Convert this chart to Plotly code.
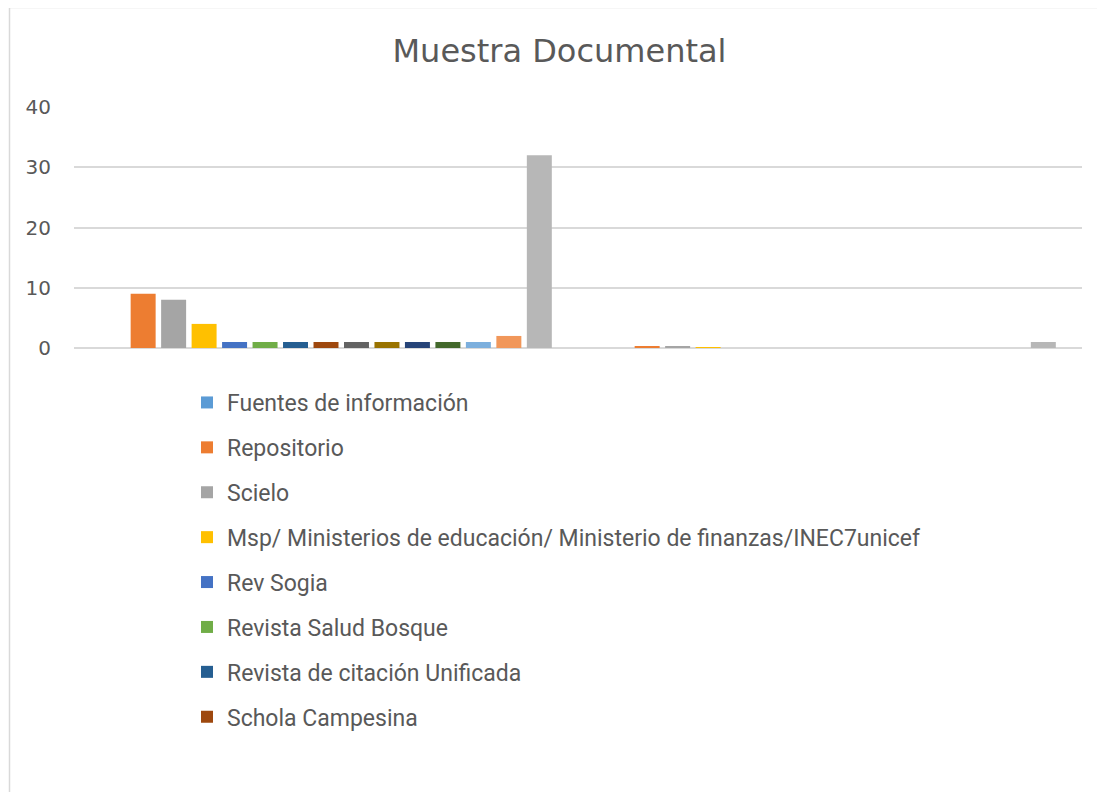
import plotly.graph_objects as go

categories = ["1", "2"]
series_names = [
    "Fuentes de información",
    "Repositorio",
    "Scielo",
    "Msp/ Ministerios de educación/ Ministerio de finanzas/INEC7unicef",
    "Rev Sogia",
    "Revista Salud Bosque",
    "Revista de citación Unificada",
    "Schola Campesina",
    "Serie 9", "Serie 10", "Serie 11", "Serie 12", "Serie 13", "Serie 14", "Serie 15",
]
values_cat1 = [0, 9, 8, 4, 1, 1, 1, 1, 1, 1, 1, 1, 1, 2, 32]
values_cat2 = [0, 0.25, 0.2, 0.08, 0, 0, 0, 0, 0, 0, 0, 0, 0, 0, 1]
colors = ["#5B9BD5", "#ED7D31", "#A5A5A5", "#FFC000", "#4472C4", "#70AD47",
          "#255E91", "#9E480E", "#636363", "#997300", "#264478", "#43682B",
          "#7CAFDD", "#F1975A", "#B7B7B7"]
legend_visible = 8

fig = go.Figure()
for i, name in enumerate(series_names):
    fig.add_trace(go.Bar(
        x=categories, y=[values_cat1[i], values_cat2[i]], name=name,
        marker=dict(color=colors[i], line=dict(width=0)),
        showlegend=i < legend_visible, legendgroup=f"g{i}",
    ))

# page is offset by 8px body margin
OFF = 8
PL, PR, PT, PB = 74 - OFF, 1082 - OFF, 107 - OFF, 348 - OFF
PW, PH = PR - PL, PB - PT

fig.update_layout(
    width=1105, height=792,
    margin=dict(l=PL, r=1105 - PR, t=PT, b=792 - PB, autoexpand=False),
    paper_bgcolor="white", plot_bgcolor="white",
    barmode="group", bargap=0.093, bargroupgap=0.18,
    title=dict(text="Muestra Documental", x=551.5 / 1105, xanchor="center",
               y=1 - 43 / 792, yanchor="middle",
               font=dict(family="DejaVu Sans", size=32, color="#595959")),
    font=dict(family="Roboto", color="#595959"),
    xaxis=dict(showticklabels=False, showgrid=False, zeroline=False, showline=False, ticks=""),
    yaxis=dict(range=[0, 40], tickvals=[0, 10, 20, 30, 40], showgrid=True,
               gridcolor="#D9D9D9", gridwidth=1.5, zeroline=True, zerolinecolor="#D9D9D9",
               zerolinewidth=1.5, showline=False, ticks="", ticklabelstandoff=22,
               tickfont=dict(family="DejaVu Sans", size=20, color="#595959")),
    legend=dict(orientation="v",
                x=(179 - PL) / PW, xanchor="left", y=(PB - (381 - OFF)) / PH, yanchor="top",
                font=dict(family="Roboto", size=23, color="#595959"),
                tracegroupgap=12, itemwidth=30, bgcolor="rgba(0,0,0,0)"),
    shapes=[dict(type="rect", xref="paper", yref="paper",
                 x0=(9.5 - OFF - PL) / PW, x1=1.1, y0=-3, y1=1 + (PT - (7.5 - OFF)) / PH,
                 line=dict(color="#D9D9D9", width=1.5), layer="below")],
)

fig.write_html("out.html")
